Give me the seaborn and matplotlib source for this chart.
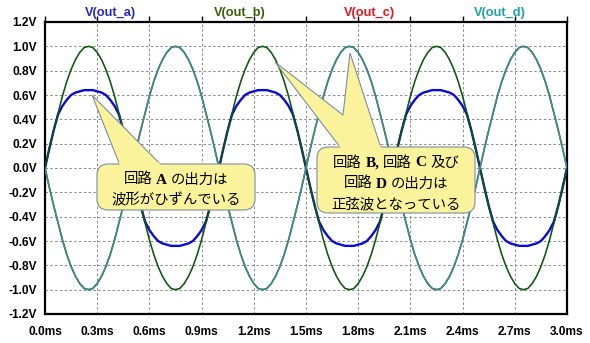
import numpy as np
import pandas as pd
import matplotlib
matplotlib.use("Agg")
import matplotlib.pyplot as plt
import matplotlib.transforms as mtransforms
from matplotlib.patches import FancyBboxPatch, Polygon, Rectangle
from matplotlib.ticker import FixedLocator, FixedFormatter
from matplotlib.offsetbox import TextArea, HPacker, DrawingArea, AnnotationBbox
import seaborn as sns

# ---------------- data ----------------
time_ms = [
    0.000, 0.025, 0.050, 0.075, 0.100, 0.125, 0.150, 0.175, 0.200, 0.225,
    0.250, 0.275, 0.300, 0.325, 0.350, 0.375, 0.400, 0.425, 0.450, 0.475,
    0.500, 0.525, 0.550, 0.575, 0.600, 0.625, 0.650, 0.675, 0.700, 0.725,
    0.750, 0.775, 0.800, 0.825, 0.850, 0.875, 0.900, 0.925, 0.950, 0.975,
    1.000, 1.025, 1.050, 1.075, 1.100, 1.125, 1.150, 1.175, 1.200, 1.225,
    1.250, 1.275, 1.300, 1.325, 1.350, 1.375, 1.400, 1.425, 1.450, 1.475,
    1.500, 1.525, 1.550, 1.575, 1.600, 1.625, 1.650, 1.675, 1.700, 1.725,
    1.750, 1.775, 1.800, 1.825, 1.850, 1.875, 1.900, 1.925, 1.950, 1.975,
    2.000, 2.025, 2.050, 2.075, 2.100, 2.125, 2.150, 2.175, 2.200, 2.225,
    2.250, 2.275, 2.300, 2.325, 2.350, 2.375, 2.400, 2.425, 2.450, 2.475,
    2.500, 2.525, 2.550, 2.575, 2.600, 2.625, 2.650, 2.675, 2.700, 2.725,
    2.750, 2.775, 2.800, 2.825, 2.850, 2.875, 2.900, 2.925, 2.950, 2.975,
    3.000,
]

out_a = [
    0.00, 0.16, 0.31, 0.44, 0.51, 0.56, 0.60, 0.62, 0.63, 0.64,
    0.64, 0.64, 0.63, 0.62, 0.60, 0.56, 0.51, 0.44, 0.31, 0.16,
    0.00, -0.16, -0.31, -0.44, -0.51, -0.56, -0.60, -0.62, -0.63, -0.64,
    -0.64, -0.64, -0.63, -0.62, -0.60, -0.56, -0.51, -0.44, -0.31, -0.16,
    0.00, 0.16, 0.31, 0.44, 0.51, 0.56, 0.60, 0.62, 0.63, 0.64,
    0.64, 0.64, 0.63, 0.62, 0.60, 0.56, 0.51, 0.44, 0.31, 0.16,
    0.00, -0.16, -0.31, -0.44, -0.51, -0.56, -0.60, -0.62, -0.63, -0.64,
    -0.64, -0.64, -0.63, -0.62, -0.60, -0.56, -0.51, -0.44, -0.31, -0.16,
    0.00, 0.16, 0.31, 0.44, 0.51, 0.56, 0.60, 0.62, 0.63, 0.64,
    0.64, 0.64, 0.63, 0.62, 0.60, 0.56, 0.51, 0.44, 0.31, 0.16,
    0.00, -0.16, -0.31, -0.44, -0.51, -0.56, -0.60, -0.62, -0.63, -0.64,
    -0.64, -0.64, -0.63, -0.62, -0.60, -0.56, -0.51, -0.44, -0.31, -0.16,
    0.00,
]

out_b = [
    0.00, 0.16, 0.31, 0.45, 0.59, 0.71, 0.81, 0.89, 0.95, 0.99,
    1.00, 0.99, 0.95, 0.89, 0.81, 0.71, 0.59, 0.45, 0.31, 0.16,
    0.00, -0.16, -0.31, -0.45, -0.59, -0.71, -0.81, -0.89, -0.95, -0.99,
    -1.00, -0.99, -0.95, -0.89, -0.81, -0.71, -0.59, -0.45, -0.31, -0.16,
    0.00, 0.16, 0.31, 0.45, 0.59, 0.71, 0.81, 0.89, 0.95, 0.99,
    1.00, 0.99, 0.95, 0.89, 0.81, 0.71, 0.59, 0.45, 0.31, 0.16,
    0.00, -0.16, -0.31, -0.45, -0.59, -0.71, -0.81, -0.89, -0.95, -0.99,
    -1.00, -0.99, -0.95, -0.89, -0.81, -0.71, -0.59, -0.45, -0.31, -0.16,
    0.00, 0.16, 0.31, 0.45, 0.59, 0.71, 0.81, 0.89, 0.95, 0.99,
    1.00, 0.99, 0.95, 0.89, 0.81, 0.71, 0.59, 0.45, 0.31, 0.16,
    0.00, -0.16, -0.31, -0.45, -0.59, -0.71, -0.81, -0.89, -0.95, -0.99,
    -1.00, -0.99, -0.95, -0.89, -0.81, -0.71, -0.59, -0.45, -0.31, -0.16,
    0.00,
]

out_d = [
    0.00, -0.16, -0.31, -0.45, -0.59, -0.71, -0.81, -0.89, -0.95, -0.99,
    -1.00, -0.99, -0.95, -0.89, -0.81, -0.71, -0.59, -0.45, -0.31, -0.16,
    0.00, 0.16, 0.31, 0.45, 0.59, 0.71, 0.81, 0.89, 0.95, 0.99,
    1.00, 0.99, 0.95, 0.89, 0.81, 0.71, 0.59, 0.45, 0.31, 0.16,
    0.00, -0.16, -0.31, -0.45, -0.59, -0.71, -0.81, -0.89, -0.95, -0.99,
    -1.00, -0.99, -0.95, -0.89, -0.81, -0.71, -0.59, -0.45, -0.31, -0.16,
    0.00, 0.16, 0.31, 0.45, 0.59, 0.71, 0.81, 0.89, 0.95, 0.99,
    1.00, 0.99, 0.95, 0.89, 0.81, 0.71, 0.59, 0.45, 0.31, 0.16,
    0.00, -0.16, -0.31, -0.45, -0.59, -0.71, -0.81, -0.89, -0.95, -0.99,
    -1.00, -0.99, -0.95, -0.89, -0.81, -0.71, -0.59, -0.45, -0.31, -0.16,
    0.00, 0.16, 0.31, 0.45, 0.59, 0.71, 0.81, 0.89, 0.95, 0.99,
    1.00, 0.99, 0.95, 0.89, 0.81, 0.71, 0.59, 0.45, 0.31, 0.16,
    0.00,
]

# out_c is identical to out_d and lies hidden underneath it
out_c = list(out_d)

trace_names = ["V(out_a)", "V(out_b)", "V(out_c)", "V(out_d)"]
trace_values = [out_a, out_b, out_c, out_d]

y_ticks = [-1.2, -1.0, -0.8, -0.6, -0.4, -0.2, 0.0, 0.2, 0.4, 0.6, 0.8, 1.0, 1.2]
y_tick_labels = ["-1.2V", "-1.0V", "-0.8V", "-0.6V", "-0.4V", "-0.2V", "0.0V",
                 "0.2V", "0.4V", "0.6V", "0.8V", "1.0V", "1.2V"]
x_ticks = [0.0, 0.3, 0.6, 0.9, 1.2, 1.5, 1.8, 2.1, 2.4, 2.7, 3.0]
x_tick_labels = ["0.0ms", "0.3ms", "0.6ms", "0.9ms", "1.2ms", "1.5ms",
                 "1.8ms", "2.1ms", "2.4ms", "2.7ms", "3.0ms"]

# callout text: (text, is_latin_letter) pieces per line
callout_a_lines = [
    [("回路", False), ("A", True), ("の出力は", False)],
    [("波形がひずんでいる", False)],
]
callout_bcd_lines = [
    [("回路", False), ("B,", True), ("回路", False), ("C", True), ("及び", False)],
    [("回路", False), ("D", True), ("の出力は", False)],
    [("正弦波となっている", False)],
]

# ---------------- styling ----------------
trace_colors = {"V(out_a)": "#0a0ad2", "V(out_b)": "#0b560b",
                "V(out_c)": "#e00000", "V(out_d)": "#1f9a9a"}
trace_widths = {"V(out_a)": 1.7, "V(out_b)": 1.15, "V(out_c)": 1.15, "V(out_d)": 1.15}
label_colors = {"V(out_a)": "#2626c4", "V(out_b)": "#355f08",
                "V(out_c)": "#e5141e", "V(out_d)": "#1ea0a4"}

sns.set_style("white")
plt.rcParams["font.family"] = ["Liberation Sans", "DejaVu Sans"]

W, H = 590, 343
fig = plt.figure(figsize=(W / 100, H / 100), dpi=100)
fig.patch.set_facecolor("white")
ax = fig.add_axes([45 / W, 1 - 314 / H, (567 - 45) / W, (314 - 22) / H])

df = pd.DataFrame({
    "time": np.concatenate([time_ms] * 4),
    "volt": np.concatenate(trace_values),
    "trace": np.repeat(trace_names, len(time_ms)),
})

for name in trace_names:
    sub = df[df["trace"] == name]
    sns.lineplot(data=sub, x="time", y="volt", color=trace_colors[name],
                 linewidth=trace_widths[name], estimator=None, sort=False,
                 ax=ax, zorder=3)

ax.set_xlim(0, 3.0)
ax.set_ylim(-1.2, 1.2)
ax.xaxis.set_major_locator(FixedLocator(x_ticks))
ax.xaxis.set_major_formatter(FixedFormatter(x_tick_labels))
ax.yaxis.set_major_locator(FixedLocator(y_ticks))
ax.yaxis.set_major_formatter(FixedFormatter(y_tick_labels))
ax.set_xlabel("")
ax.set_ylabel("")
ax.grid(True, color="#8a8a8a", linestyle=(0, (2.3, 2.3)), linewidth=0.75)
for sp in ax.spines.values():
    sp.set_color("black")
    sp.set_linewidth(1.6)
ax.tick_params(axis="both", which="major", direction="out", length=4.3,
               width=1.0, color="black", labelsize=8.6, pad=1.5)
ax.tick_params(axis="x", top=True, pad=4)
for lab in ax.get_xticklabels() + ax.get_yticklabels():
    lab.set_fontweight("bold")
    lab.set_color("black")
if ax.get_legend():
    ax.get_legend().remove()

# trace labels above the plot
label_x = [110, 240, 369, 500]
for name, lx in zip(trace_names, label_x):
    fig.text(lx / W, 1 - 13 / H, name, color=label_colors[name], fontsize=9.2,
             fontweight="bold", ha="center", va="center")

# ---------------- callouts (pixel coordinates, y from top) ----------------
px = mtransforms.Affine2D().scale(1 / W, -1 / H).translate(0, 1) + fig.transFigure
fill_c = "#faf39c"
edge_c = "#7d8d9e"
cjk_props = dict(fontsize=10.4, color="black",
                 family=["Noto Sans CJK JP", "DejaVu Sans"])
latin_props = dict(fontsize=11.0, color="black", fontweight="bold",
                   family=["Liberation Serif", "DejaVu Serif"])


def make_line(pieces):
    children = []
    for i, (txt, latin) in enumerate(pieces):
        if latin and i > 0:
            children.append(DrawingArea(2.6, 1))
        children.append(TextArea(txt, textprops=latin_props if latin else cjk_props))
        if latin and i < len(pieces) - 1:
            children.append(DrawingArea(2.6, 1))
    return HPacker(children=children, pad=0, sep=0, align="baseline")


def callout(x0, y0, x1, y1, pointer_pts, lines, line_ys):
    poly = Polygon(pointer_pts, closed=True, transform=px, facecolor=fill_c,
                   edgecolor=edge_c, linewidth=0.8, zorder=5)
    fig.patches.append(poly)
    box = FancyBboxPatch((x0, y0), x1 - x0, y1 - y0,
                         boxstyle="round,pad=0,rounding_size=11",
                         transform=px, facecolor=fill_c, edgecolor=edge_c,
                         linewidth=0.8, zorder=6)
    fig.patches.append(box)
    cover = Polygon(pointer_pts, closed=True, transform=px, facecolor=fill_c,
                    edgecolor="none", linewidth=0, zorder=7)
    clip = Rectangle((x0, y0 - 2.5), x1 - x0, 6, transform=px)
    cover.set_clip_path(clip)
    fig.patches.append(cover)
    cx = (x0 + x1) / 2
    for pieces, ly in zip(lines, line_ys):
        ab = AnnotationBbox(make_line(pieces), (cx, ly), xycoords=px,
                            frameon=False, box_alignment=(0.5, 0.5), pad=0,
                            zorder=8)
        fig.add_artist(ab)


callout(97, 164, 255, 210,
        [(121, 168), (92, 95), (164, 168)],
        callout_a_lines, [179.5, 200])
callout(317, 147, 475, 213,
        [(343, 151), (275, 62), (343, 115), (350, 53), (382, 151)],
        callout_bcd_lines, [162.5, 183.5, 204.5])

fig.savefig("out.png", dpi=100, facecolor="white")
